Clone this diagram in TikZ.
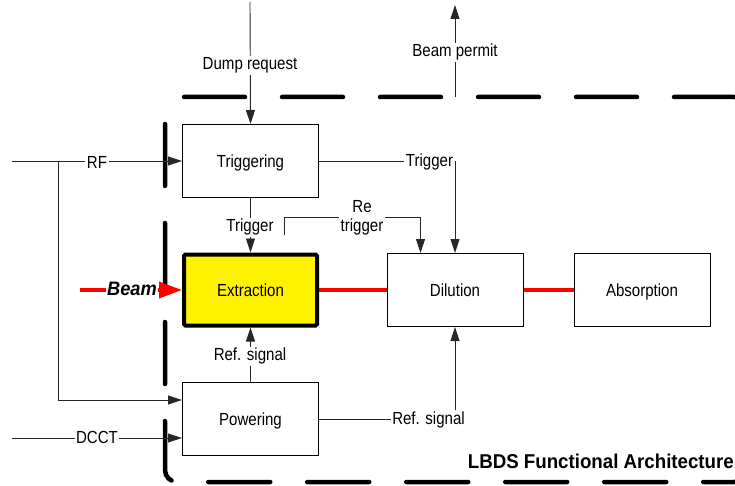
\documentclass[tikz,border=0pt]{standalone}
\usepackage{fontspec}
\setmainfont{Liberation Sans}[FakeStretch=0.86]
\newfontfamily\bfam{Liberation Sans}[FakeStretch=0.935]
\usetikzlibrary{arrows.meta,backgrounds}
\begin{document}
\begin{tikzpicture}[x=1pt,y=-1pt,
  every node/.style={font=\fontsize{17.5}{18.3}\selectfont},
  tl/.style={text height=12.5pt, text depth=3.7pt},
  blk/.style={text height=12.5pt, text depth=0pt, draw=black, fill=white, line width=1pt, minimum width=136pt, minimum height=73pt, inner sep=0pt},
  conn/.style={draw=black!85, line width=0.9pt, -{Triangle[length=14pt,width=9pt]}},
  redline/.style={draw=red, line width=3.8pt},
  lbl/.style={tl, fill=white, inner sep=1.5pt, anchor=base},
  border/.style={line width=4.5pt, line cap=round, rounded corners=12pt}
]
\useasboundingbox (0,0) rectangle (735,486);
\begin{scope}
\clip (0,0) rectangle (735,486);
\draw[border, dash pattern=on 61pt off 37pt] (184,97) -- (746,97) -- (746,250);
\draw[border, dash pattern=on 62pt off 37pt] (165,124) -- (165,482) -- (746,482) -- (746,250);
\end{scope}

% blocks
\node[blk] (trig) at (250.5,161) {Triggering};
\node[blk, fill=yellow, line width=4pt, minimum width=133pt, minimum height=71pt, rounded corners=1.5pt] (ext) at (250.5,290) {Extraction};
\node[blk] (pow) at (250.5,419) {Powering};
\node[blk] (dil) at (455,290) {Dilution};
\node[blk] (abs) at (642,290) {Absorption};

% free ends
\coordinate (dumptop) at (250,2);
\coordinate (permitbot) at (455,97);
\coordinate (permittop) at (455,5);
\coordinate (rfin) at (12,161);
\coordinate (rfbr) at (58,161);
\coordinate (dcctin) at (12,438);
\coordinate (beamin) at (80,290);
\coordinate (retrig) at (284,235);

% connectors
\begin{scope}[on background layer]
\draw[redline] (ext.center) -- (dil.center);
\draw[redline] (dil.center) -- (abs.center);
\end{scope}
\draw[conn] (dumptop) -- (trig.north);
\draw[conn] (permitbot) -- (permittop);
\draw[conn] (rfin) -- (trig.west);
\draw[conn] (rfbr) |- ([yshift=19pt]pow.west);
\draw[conn] (dcctin) -- ([yshift=-19pt]pow.west);
\draw[conn] (trig.south) -- (ext.north);
\draw[conn] (pow.north) -- (ext.south);
\draw[conn] (trig.east) -| (dil.north);
\draw[conn] (retrig) -- ++(0,-18) -| ([xshift=34pt]dil.north west);
\draw[conn] (pow.east) -| (dil.south);
\draw[redline, -{Triangle[length=23pt,width=16pt]}] (beamin) -- (ext.west);

% labels
\node[lbl] (ldump) at (250,70) {Dump request};
\node[lbl] (lpermit) at (455,56.7) {Beam permit};
\node[lbl] (lrf) at (97,169) {RF};
\node[lbl] (ldcct) at (97,443.3) {DCCT};
\node[lbl] (ltrigA) at (250,231.7) {Trigger};
\node[lbl, inner sep=2pt] (ltrigB) at (429.5,167) {Trigger};
\node[fill=white, inner sep=1.5pt, align=center] (lre) at (362,217.7) {Re\\trigger};
\node[lbl] (lrefA) at (250,360.7) {Ref. signal};
\node[lbl] (lrefB) at (428.5,424) {Ref. signal};
\node[lbl, text height=14pt, text depth=0pt, font=\bfam\bfseries\itshape\fontsize{19.5}{21}\selectfont] (lbeam) at (132,295.7) {Beam};
\node[anchor=base east, inner sep=0pt, font=\bfam\bfseries\fontsize{20}{22}\selectfont] (title) at (734,468.3) {LBDS Functional Architecture};
\end{tikzpicture}
\end{document}
